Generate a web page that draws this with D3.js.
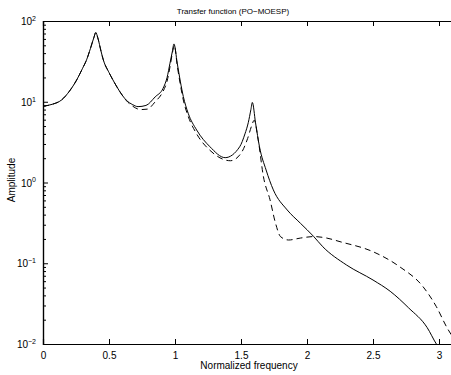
<!DOCTYPE html>
<html>
<head>
<meta charset="utf-8">
<script src="https://cdn.jsdelivr.net/npm/d3@7"></script>
<style>
  body { margin: 0; background: #fff; }
  text { font-family: "Liberation Sans", Arial, sans-serif; fill: #000; }
</style>
</head>
<body>
<div id="chart-area"></div>
<script>
// frequencies and amplitudes
var freqSolid = [0, 0.07, 0.14, 0.2, 0.255, 0.3, 0.33, 0.36, 0.385, 0.4, 0.415, 0.44, 0.457, 0.5, 0.53, 0.58, 0.63, 0.68, 0.72, 0.78, 0.85, 0.91, 0.94, 0.962, 0.98, 0.992, 1.017, 1.04, 1.063, 1.1, 1.164, 1.265, 1.38, 1.49, 1.53, 1.555, 1.575, 1.586, 1.61, 1.64, 1.69, 1.745, 1.85, 1.95, 2.05, 2.12, 2.3, 2.5, 2.63, 2.77, 2.91, 2.98, 3.05, 3.1416];
var ampSolid = [8.8, 9.3, 10.5, 13.5, 18.6, 26, 33, 46, 62, 72, 62, 42, 33, 23, 18.6, 13.5, 10.5, 9.2, 8.7, 9.0, 11.5, 14.7, 20, 30, 42, 52, 30, 18, 11.6, 7.2, 4.47, 2.77, 2.03, 2.77, 4.0, 5.5, 8.0, 9.8, 5.5, 2.77, 1.43, 0.81, 0.457, 0.313, 0.215, 0.16, 0.095, 0.062, 0.045, 0.028, 0.016, 0.01, 0.007, 0.004];

var freqDashed = [0, 0.07, 0.14, 0.2, 0.255, 0.3, 0.33, 0.36, 0.385, 0.4, 0.415, 0.44, 0.457, 0.5, 0.53, 0.58, 0.63, 0.68, 0.74, 0.79, 0.85, 0.91, 0.94, 0.962, 0.98, 0.995, 1.017, 1.04, 1.063, 1.1, 1.164, 1.265, 1.42, 1.5, 1.55, 1.58, 1.6, 1.63, 1.67, 1.72, 1.76, 1.8, 1.86, 1.95, 2.05, 2.15, 2.25, 2.5, 2.7, 2.88, 2.98, 3.06, 3.1, 3.1416];
var ampDashed = [8.8, 9.3, 10.5, 13.5, 18.6, 26, 33, 46, 62, 72, 62, 42, 33, 23, 18.6, 13.5, 10.4, 8.8, 8.0, 8.1, 10.0, 13.5, 18, 27, 40, 50, 28, 16.5, 10.5, 6.6, 4.0, 2.5, 1.86, 2.3, 3.5, 5.0, 5.9, 3.4, 1.18, 0.61, 0.32, 0.213, 0.194, 0.205, 0.214, 0.205, 0.185, 0.139, 0.091, 0.051, 0.029, 0.016, 0.0125, 0.01];

var xTicks = [0, 0.5, 1, 1.5, 2, 2.5, 3];
var yTicks = [0.01, 0.1, 1, 10, 100];

var margin = { left: 43, top: 21 };
var width = 132 * Math.PI;
var height = 323;

var svg = d3.select("#chart-area")
  .append("svg")
  .attr("width", 451)
  .attr("height", 375);

svg.append("defs").append("clipPath")
  .attr("id", "clip")
  .append("rect")
  .attr("width", width)
  .attr("height", height);

var g = svg.append("g")
  .attr("transform", "translate(" + margin.left + "," + margin.top + ")");

// Scales
var x = d3.scaleLinear()
  .domain([0, Math.PI])
  .range([0, width]);

var y = d3.scaleLog()
  .domain([0.01, 100])
  .range([height, 0]);

// Minor ticks on the log axis
var minor = [];
[0.01, 0.1, 1, 10].forEach(function(base) {
  for (var k = 2; k <= 9; k++) minor.push(base * k);
});

// Axis frame with inward ticks
var bottomAxis = d3.axisBottom(x).tickValues(xTicks).tickSize(-5).tickPadding(8)
  .tickFormat(function(d) { return d; });
g.append("g")
  .attr("transform", "translate(0," + height + ")")
  .call(bottomAxis);

var topAxis = d3.axisTop(x).tickValues(xTicks).tickSize(-5).tickFormat("");
g.append("g").call(topAxis);

var leftAxis = d3.axisLeft(y).tickValues(yTicks).tickSize(-5).tickPadding(7).tickFormat("");
var leftG = g.append("g").call(leftAxis);

g.append("g")
  .call(d3.axisLeft(y).tickValues(minor).tickSize(-3).tickFormat(""));

var rightAxis = d3.axisRight(y).tickValues(yTicks).tickSize(-5).tickFormat("");
g.append("g")
  .attr("transform", "translate(" + width + ",0)")
  .call(rightAxis);

g.selectAll(".domain")
  .attr("stroke", "#000")
  .attr("stroke-width", 1.2);
g.selectAll(".tick line").attr("stroke", "#000");
g.selectAll(".tick text")
  .attr("font-size", "10px")
  .attr("font-family", "Liberation Sans, Arial, sans-serif");

// Power-of-ten labels
leftG.selectAll(".tick").each(function(d) {
  var t = d3.select(this).append("text")
    .attr("x", -7)
    .attr("dy", "0.35em")
    .attr("text-anchor", "end")
    .attr("font-size", "10px");
  t.append("tspan").text("10");
  t.append("tspan")
    .attr("font-size", "7px")
    .attr("dy", "-0.6em")
    .text(d3.format("d")(Math.log10(d)).replace("-", "\u2212"));
});

// Lines
var line = d3.line()
  .x(function(d) { return x(d[0]); })
  .y(function(d) { return y(d[1]); })
  .curve(d3.curveMonotoneX);

var solid = d3.zip(freqSolid, ampSolid);
var dashed = d3.zip(freqDashed, ampDashed);

g.append("path")
  .datum(dashed)
  .attr("clip-path", "url(#clip)")
  .attr("fill", "none")
  .attr("stroke", "#000")
  .attr("stroke-width", 1)
  .attr("stroke-dasharray", "6,4")
  .attr("d", line);

g.append("path")
  .datum(solid)
  .attr("clip-path", "url(#clip)")
  .attr("fill", "none")
  .attr("stroke", "#000")
  .attr("stroke-width", 1)
  .attr("d", line);

// Labels
svg.append("text")
  .attr("x", 233)
  .attr("y", 14)
  .attr("text-anchor", "middle")
  .attr("font-size", "8px")
  .text("Transfer function (PO\u2212MOESP)");

svg.append("text")
  .attr("x", 249)
  .attr("y", 369)
  .attr("text-anchor", "middle")
  .attr("font-size", "10px")
  .text("Normalized frequency");

svg.append("text")
  .attr("transform", "translate(15,180) rotate(-90)")
  .attr("text-anchor", "middle")
  .attr("font-size", "10px")
  .text("Amplitude");
</script>
</body>
</html>
